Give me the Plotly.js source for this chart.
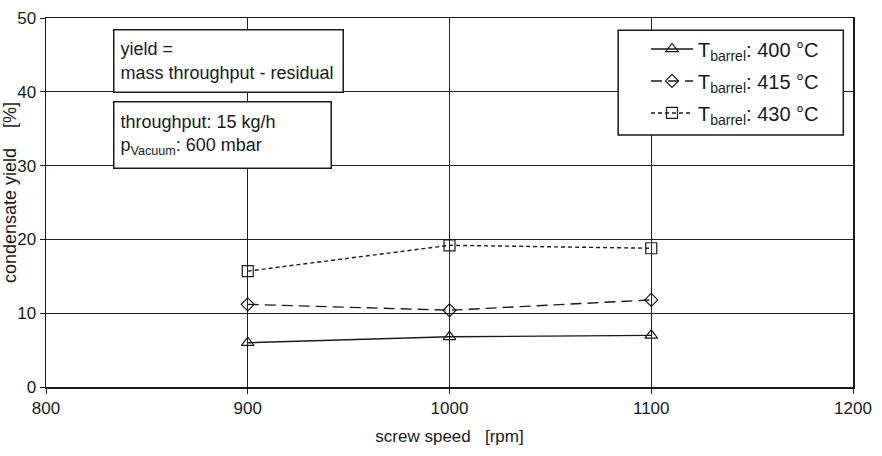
<!DOCTYPE html>
<html>
<head>
<meta charset="utf-8">
<script src="https://cdn.plot.ly/plotly-3.0.1.min.js"></script>
<style>html,body{margin:0;padding:0;background:#fff;}#chart{width:882px;height:456px;}</style>
</head>
<body>
<div id="chart"></div>
<script>
const screwSpeed = [900, 1000, 1100];
const yield400 = [6.0, 6.8, 7.0];
const yield415 = [11.2, 10.4, 11.8];
const yield430 = [15.7, 19.2, 18.8];
const seriesNames = ['T<sub>barrel</sub>: 400 °C', 'T<sub>barrel</sub>: 415 °C', 'T<sub>barrel</sub>: 430 °C'];
const xTicks = [800, 900, 1000, 1100, 1200];
const yTicks = [0, 10, 20, 30, 40, 50];

const ink = '#1a1a1a';
const traces = [
  {x: screwSpeed, y: yield400, name: seriesNames[0], legendgroup: 'a', mode: 'lines+markers',
   line: {color: ink, width: 1.4, dash: 'solid'},
   marker: {symbol: 'triangle-up-open', size: 11, color: ink, line: {width: 1.2, color: ink}}},
  {x: screwSpeed, y: yield415, name: seriesNames[1], legendgroup: 'b', mode: 'lines+markers',
   line: {color: ink, width: 1.4, dash: '11px,6px'},
   marker: {symbol: 'diamond-open', size: 10, color: ink, line: {width: 1.2, color: ink}}},
  {x: screwSpeed, y: yield430, name: seriesNames[2], legendgroup: 'c', mode: 'lines+markers',
   line: {color: ink, width: 1.4, dash: '4px,3px'},
   marker: {symbol: 'square-open', size: 11, color: ink, line: {width: 1.2, color: ink}}}
];

const fam = 'Liberation Sans, Arial, sans-serif';
const tickFont = {family: fam, size: 17, color: '#1a1a1a'};
const yTitleFont = {family: fam, size: 18, color: '#1a1a1a'};
const boxFont = {family: fam, size: 18, color: '#1a1a1a'};
const legendFont = {family: fam, size: 20, color: '#1a1a1a'};
const layout = {
  width: 882, height: 456,
  margin: {l: 46, r: 29, t: 18, b: 69},
  paper_bgcolor: '#fff', plot_bgcolor: '#fff',
  font: tickFont,
  showlegend: true,
  xaxis: {
    range: [800, 1200], tickvals: xTicks, ticktext: xTicks.map(String),
    showgrid: true, gridcolor: '#222', gridwidth: 1,
    showline: true, linecolor: '#1a1a1a', linewidth: 1.5, mirror: true,
    ticks: 'outside', ticklen: 5, tickcolor: '#1a1a1a', zeroline: false,
    tickfont: tickFont,
    title: {text: 'screw speed\u00a0\u00a0\u00a0[rpm]', font: tickFont, standoff: 13}
  },
  yaxis: {
    range: [0, 50], tickvals: yTicks, ticktext: yTicks.map(String),
    showgrid: true, gridcolor: '#222', gridwidth: 1,
    showline: true, linecolor: '#1a1a1a', linewidth: 1.5, mirror: true,
    ticks: 'outside', ticklen: 5, tickcolor: '#1a1a1a', zeroline: false,
    tickfont: tickFont
  },
  legend: {
    x: 0.7435, y: 0.969, xanchor: 'left', yanchor: 'top',
    bgcolor: 'rgba(0,0,0,0)', borderwidth: 0,
    font: legendFont, traceorder: 'grouped', tracegroupgap: 3, itemwidth: 42
  },
  shapes: [
    {type: 'rect', xref: 'paper', yref: 'paper', layer: 'above',
     x0: 0.709, x1: 0.988, y0: 0.683, y1: 0.967,
     fillcolor: '#fff', line: {color: '#1a1a1a', width: 1.5}}
  ],
  annotations: [
    {xref: 'paper', yref: 'paper', x: -0.0445, y: 0.526, xanchor: 'center', yanchor: 'middle',
     text: 'condensate yield\u00a0\u00a0\u00a0\u00a0[%]', textangle: -90, showarrow: false, font: yTitleFont},
    {xref: 'paper', yref: 'paper', x: 0.083, y: 0.970, xanchor: 'left', yanchor: 'top',
     text: 'yield =<br>mass throughput - residual', align: 'left', showarrow: false,
     width: 216, height: 49, bgcolor: '#fff', bordercolor: '#1a1a1a', borderwidth: 1.5, borderpad: 6,
     font: boxFont},
    {xref: 'paper', yref: 'paper', x: 0.083, y: 0.775, xanchor: 'left', yanchor: 'top',
     text: 'throughput: 15 kg/h<br>p<sub>Vacuum</sub>: 600 mbar', align: 'left', showarrow: false,
     width: 204, height: 53, bgcolor: '#fff', bordercolor: '#1a1a1a', borderwidth: 1.5, borderpad: 6,
     font: boxFont}
  ]
};

Plotly.newPlot('chart', traces, layout, {displayModeBar: false, staticPlot: true});
</script>
</body>
</html>
